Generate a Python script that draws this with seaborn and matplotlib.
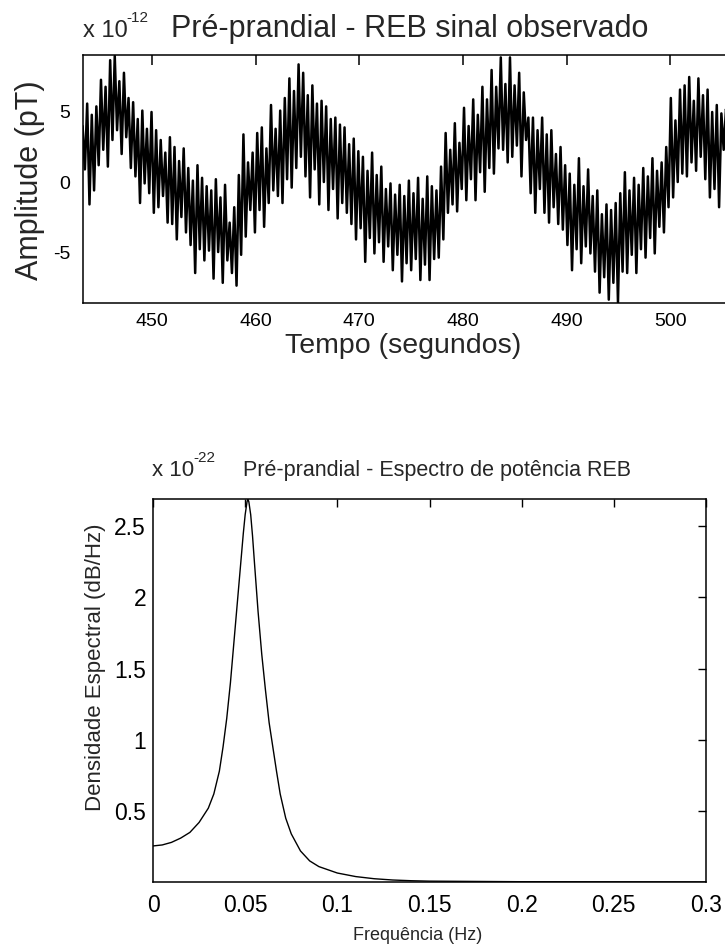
import numpy as np
import pandas as pd
import matplotlib
matplotlib.use("Agg")
import matplotlib.pyplot as plt
import seaborn as sns

# ---------------- data ----------------
# Top panel: observed signal, upper and lower excursions of each fast oscillation (x 1e-12 T)
t_start, t_end = 443.3, 505.6
sig_hi = [4.0, 5.6, 4.8, 5.4, 7.3, 6.8, 8.7, 9.0, 7.2, 7.8, 6.0, 5.7, 4.5, 5.1, 3.8, 5.0,
          3.7, 3.0, 2.1, 3.2, 2.5, 1.5, 2.4, 1.0, 0.1, 1.2, 0.3, -0.3, -0.6, 0.2, -1.1, -0.2,
          -2.9, -1.8, 0.5, 3.4, 1.4, 2.1, 3.5, 3.9, 2.4, 5.5, 3.8, 5.1, 6.0, 7.4, 6.5, 8.4,
          7.8, 6.2, 6.9, 5.6, 5.8, 5.4, 4.5, 4.6, 4.1, 3.9, 2.7, 3.1, 2.2, 1.8, 0.8, 2.1,
          0.5, 1.1, -0.5, -0.1, -0.9, -0.2, -1.0, 0.1, -0.8, 0.3, -1.2, 0.4, -0.3, -0.6,
          1.1, 3.5, 2.3, 4.2, 2.8, 5.3, 4.0, 5.9, 4.8, 6.8, 5.9, 8.0, 6.8, 8.9, 7.0, 8.9,
          6.9, 7.8, 6.4, 4.6, 4.6, 3.7, 4.6, 3.4, 3.7, 2.0, 2.5, 1.2, 0.6, -0.2, 1.7, -0.3,
          0.9, -1.0, -0.6, -2.3, -1.6, -2.0, -1.5, -0.8, 0.7, -0.6, 0.3, -0.2, 1.0, 0.4,
          1.7, 0.8, 1.4, 2.5, 6.0, 4.4, 6.6, 6.9, 7.5, 5.8, 7.4, 6.2, 6.6, 5.0, 5.5, 4.9, 5.2]
sig_lo = [0.9, -1.6, -0.6, 1.2, 2.3, 1.1, 3.0, 3.7, 2.0, 3.2, 1.0, 0.4, -1.5, -0.1, -0.8, -2.2,
          -1.8, -1.0, -2.9, -3.0, -4.1, -2.5, -3.6, -4.5, -6.5, -4.8, -5.6, -4.9, -6.9, -5.0, -7.2, -5.6,
          -6.5, -7.4, -5.2, -3.9, -2.0, -3.6, -2.0, -3.2, -1.5, -0.6, -1.0, -1.5, 0.2, -0.4, 1.0, 1.8,
          0.4, -1.1, 0.9, -1.6, 0.0, -2.0, -0.5, -2.6, -1.5, -2.2, -3.0, -4.1, -3.3, -5.7, -4.0, -5.1,
          -4.3, -5.7, -4.6, -6.3, -5.2, -7.1, -5.8, -6.3, -5.5, -7.0, -5.9, -7.0, -5.5, -5.4,
          -4.1, -2.2, -1.6, -2.1, -0.5, -1.3, 0.2, -1.3, 0.7, -0.7, 1.0, 0.6, 2.4, 2.3, 1.4, 1.8,
          2.6, 0.4, 3.0, -0.8, -2.2, -0.5, -2.2, -2.9, -1.8, -3.0, -3.4, -4.5, -6.3, -4.8, -5.8, -4.6,
          -5.1, -6.4, -7.9, -6.8, -8.4, -7.2, -8.6, -6.4, -6.5, -5.2, -6.5, -4.8, -5.4, -4.0,
          -5.1, -3.2, -3.6, -1.8, -1.1, 0.0, 0.6, 0.4, 1.4, 0.8, 1.8, 0.2, -1.1, -0.5, -1.8, 2.3, 1.0]

# Bottom panel: power spectral density (x 1e-22)
freq = [0.000, 0.005, 0.010, 0.015, 0.020, 0.025, 0.030, 0.033, 0.036, 0.038, 0.040,
        0.042, 0.044, 0.046, 0.048, 0.049, 0.050, 0.051, 0.0515, 0.052, 0.053, 0.054,
        0.055, 0.057, 0.059, 0.061, 0.063, 0.065, 0.067, 0.069, 0.072, 0.075, 0.080,
        0.085, 0.090, 0.100, 0.110, 0.120, 0.130, 0.140, 0.150, 0.200, 0.250, 0.300]
psd = [0.255, 0.262, 0.280, 0.310, 0.350, 0.420, 0.520, 0.620, 0.780, 0.950, 1.150,
       1.400, 1.700, 2.000, 2.300, 2.450, 2.580, 2.670, 2.690, 2.670, 2.580, 2.430,
       2.250, 1.900, 1.600, 1.350, 1.120, 0.950, 0.780, 0.620, 0.450, 0.340, 0.220,
       0.150, 0.110, 0.065, 0.040, 0.025, 0.016, 0.011, 0.008, 0.004, 0.003, 0.002]

top_xticks = [450, 460, 470, 480, 490, 500]
top_yticks = [-5, 0, 5]
top_yticklabels = ["-5", "0", "5"]
bot_xticks = [0, 0.05, 0.1, 0.15, 0.2, 0.25, 0.3]
bot_xticklabels = ["0", "0.05", "0.1", "0.15", "0.2", "0.25", "0.3"]
bot_yticks = [0.5, 1, 1.5, 2, 2.5]
bot_yticklabels = ["0.5", "1", "1.5", "2", "2.5"]

# ---------------- build tables ----------------
vals = []
for h, l in zip(sig_hi, sig_lo):
    vals.append(h)
    vals.append(l)
time = np.linspace(t_start, t_end, len(vals))
df_sig = pd.DataFrame({"t": time, "amp": vals})
df_psd = pd.DataFrame({"f": freq, "p": psd})

# ---------------- style ----------------
sns.set_theme(style="white")
FONT = ["Liberation Sans", "DejaVu Sans"]
plt.rcParams["font.family"] = FONT
plt.rcParams["axes.linewidth"] = 1.1

W, H = 725, 950
fig = plt.figure(figsize=(W / 100, H / 100), dpi=100)


def box(l, t, r, b):
    return [l / W, 1 - b / H, (r - l) / W, (b - t) / H]


# ---------------- top panel ----------------
ax1 = fig.add_axes(box(83, 55, 749, 303))
sns.lineplot(data=df_sig, x="t", y="amp", ax=ax1, color="black", linewidth=1.8,
             estimator=None, sort=False)
ax1.set_xlim(443.34, 507.6)
ax1.set_ylim(-8.64, 9.07)
ax1.set_xticks(top_xticks)
ax1.set_xticklabels([str(v) for v in top_xticks])
ax1.set_yticks(top_yticks)
ax1.set_yticklabels(top_yticklabels)
ax1.tick_params(direction="in", length=7, width=1.1, top=True, right=True,
                labelsize=14, colors="black")
ax1.tick_params(axis="x", pad=7)
ax1.tick_params(axis="y", pad=9)
ax1.set_xlabel("")
ax1.set_ylabel("")
for s in ax1.spines.values():
    s.set_color("black")

fig.text(403 / W, 1 - 346 / H, "Tempo (segundos)", ha="center", va="center", fontsize=20.5)
fig.text(30 / W, 1 - 180 / H, "Amplitude (pT)", ha="center", va="center",
         rotation=90, fontsize=22)
fig.text(83 / W, 1 - 37 / H, "x 10", ha="left", va="baseline", fontsize=17)
fig.text(126 / W, 1 - 22 / H, "-12", ha="left", va="baseline", fontsize=11)
fig.text(171 / W, 1 - 37 / H, "Pré-prandial - REB sinal observado", ha="left",
         va="baseline", fontsize=22)

# ---------------- bottom panel ----------------
ax2 = fig.add_axes(box(153, 499, 706, 882))
sns.lineplot(data=df_psd, x="f", y="p", ax=ax2, color="black", linewidth=1.0,
             estimator=None)
ax2.set_xlim(0, 0.3)
ax2.set_ylim(min(psd), 2.69)
ax2.set_xticks(bot_xticks)
ax2.set_xticklabels(bot_xticklabels)
ax2.set_yticks(bot_yticks)
ax2.set_yticklabels(bot_yticklabels)
ax2.tick_params(direction="in", length=6, width=1.0, top=True, right=True,
                labelsize=16.5, colors="black")
ax2.tick_params(axis="x", pad=9)
ax2.tick_params(axis="y", pad=5)
ax2.set_xlabel("")
ax2.set_ylabel("")
for s in ax2.spines.values():
    s.set_color("black")

fig.text(418 / W, 1 - 935 / H, "Frequência (Hz)", ha="center", va="center", fontsize=13)
fig.text(95 / W, 1 - 667 / H, "Densidade Espectral (dB/Hz)", ha="center", va="center",
         rotation=90, fontsize=16)
fig.text(152 / W, 1 - 476 / H, "x 10", ha="left", va="baseline", fontsize=16)
fig.text(193 / W, 1 - 462 / H, "-22", ha="left", va="baseline", fontsize=11)
fig.text(243 / W, 1 - 476 / H, "Pré-prandial - Espectro de potência REB", ha="left",
         va="baseline", fontsize=15.5)

fig.savefig("out.png", dpi=100, facecolor="white")
